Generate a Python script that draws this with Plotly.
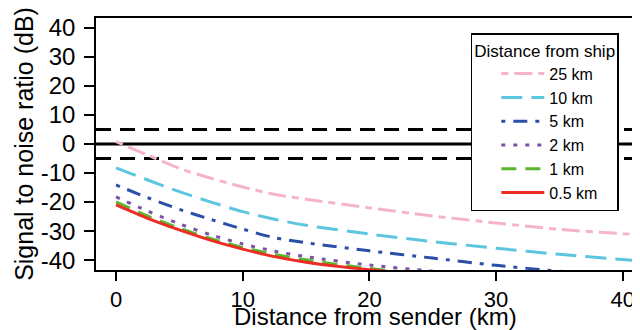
import plotly.graph_objects as go

# Distance from sender (km)
distance_km = [0, 2.5, 5, 7.5, 10, 12.5, 15, 20, 25, 30, 35, 40, 42]

# SNR (dB) for each distance from ship
snr_25km = [0.8, -3.8, -8.4, -11.8, -14.8, -17.3, -19.0, -22.0, -24.8, -27.2, -29.4, -30.9, -31.4]
snr_10km = [-8.2, -12.4, -16.4, -20.0, -23.3, -25.9, -28.0, -31.0, -33.6, -35.9, -38.0, -39.8, -40.4]
snr_5km = [-14.1, -18.5, -22.5, -26.0, -29.3, -32.3, -34.0, -36.8, -39.3, -41.8, -43.8, -45.5, -46.0]
snr_2km = [-18.2, -23.1, -27.5, -31.3, -34.4, -36.9, -38.8, -41.7, -43.8, -45.8, -47.5, -49.0, -49.5]
snr_1km = [-19.9, -24.8, -29.0, -32.6, -35.6, -38.0, -39.9, -42.9, -45.0, -47.0, -48.6, -50.0, -50.5]
snr_05km = [-21.0, -25.6, -29.6, -33.2, -36.2, -38.8, -40.7, -43.3, -45.3, -47.2, -48.8, -50.2, -50.7]

series_names = ["25 km", "10 km", "5 km", "2 km", "1 km", "0.5 km"]
series_values = [snr_25km, snr_10km, snr_5km, snr_2km, snr_1km, snr_05km]
series_colors = ["#F5B5C7", "#5CC6DF", "#2B4FA6", "#7B52A8", "#5BB52E", "#EC2D24"]
series_dash = ["7px,6px,18px,6px", "21px,9px", "4px,8px,14px,8px", "4px,8px", "15px,9px", "solid"]

# Reference threshold lines (dB)
threshold_dashed = [5, -5]
threshold_solid = [0]

x_ticks = [0, 10, 20, 30, 40]
y_ticks = [-40, -30, -20, -10, 0, 10, 20, 30, 40]
y_tick_text = ["-40", "-30", "-20", "-10", "0", "10", "20", "30", "40"]

x_title = "Distance from sender (km)"
y_title = "Signal to noise ratio (dB)"

FONT = "Liberation Sans, Arial, Helvetica, sans-serif"

fig = go.Figure()
for name, vals, col, dash in zip(series_names, series_values, series_colors, series_dash):
    fig.add_trace(go.Scatter(
        x=distance_km, y=vals, mode="lines", name=name,
        line=dict(color=col, width=3, dash=dash, shape="spline", smoothing=0.8),
    ))

for v in threshold_dashed:
    fig.add_hline(y=v, line=dict(color="black", width=3, dash="15px,9px"), layer="below")
for v in threshold_solid:
    fig.add_hline(y=v, line=dict(color="black", width=3), layer="below")

# page has an 8px body margin, so the figure is 632x322 and offset by 8px
fig.update_layout(
    width=632, height=322,
    margin=dict(l=88, r=0, t=10, b=60, autoexpand=False),
    paper_bgcolor="white", plot_bgcolor="white",
    font=dict(family=FONT, color="black"),
    showlegend=True,
    legend=dict(
        title=dict(text="Distance from ship", font=dict(size=17, family=FONT)),
        font=dict(size=16, family=FONT),
        x=0.689, y=0.94, xanchor="left", yanchor="top",
        bgcolor="white", bordercolor="black", borderwidth=1.5,
        indentation=24, itemwidth=43, traceorder="normal",
    ),
)

# x axis title placed as an annotation so it sits just below the tick labels
fig.add_annotation(
    text=x_title, xref="paper", yref="paper", x=0.514, y=0,
    xanchor="center", yanchor="middle", yshift=-46, showarrow=False,
    font=dict(size=24, family=FONT, color="black"),
)

fig.update_xaxes(
    range=[-1.58, 41.36], tickvals=x_ticks, ticks="outside", ticklen=9, tickwidth=1.5,
    tickcolor="black", showline=True, linecolor="black", linewidth=1.5, mirror=True,
    showgrid=False, zeroline=False, tickfont=dict(size=22, family=FONT),
)
fig.update_yaxes(
    range=[-43.4, 43.4], tickvals=y_ticks, ticktext=y_tick_text, ticks="outside", ticklen=10,
    tickwidth=1.5, tickcolor="black", showline=True, linecolor="black", linewidth=1.5,
    mirror=False, showgrid=False, zeroline=False, tickfont=dict(size=24, family=FONT),
    ticklabelstandoff=4,
    title=dict(text=y_title, font=dict(size=25, family=FONT), standoff=0),
)

fig.write_html("out.html")
